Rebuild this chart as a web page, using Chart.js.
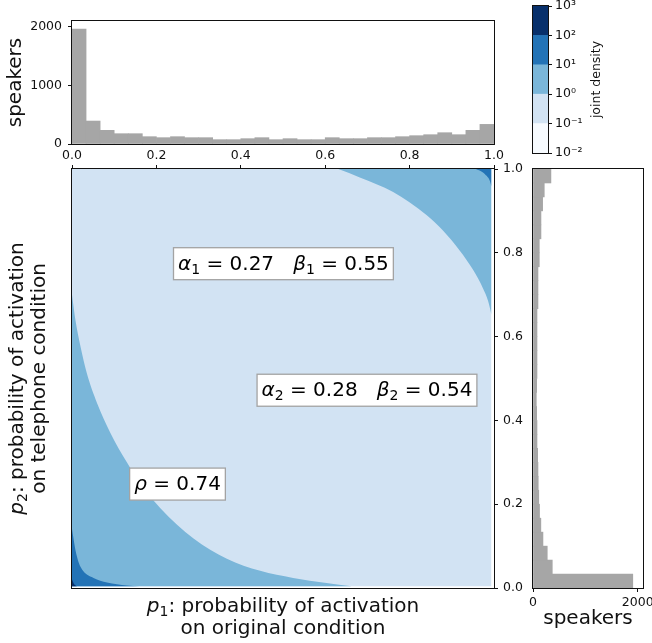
<!DOCTYPE html>
<html>
<head>
<meta charset="utf-8">
<script src="https://cdn.jsdelivr.net/npm/chart.js@4.4.1/dist/chart.umd.min.js"></script>
<style>
  html, body { margin: 0; padding: 0; background: #fff; }
  #wrap { position: relative; width: 652px; height: 643px; overflow: hidden; }
  canvas { position: absolute; left: 0; top: 0; }
</style>
</head>
<body>
<div id="wrap">
  <canvas id="main-chart" width="652" height="643"></canvas>
  <canvas id="top-hist" width="652" height="643"></canvas>
  <canvas id="right-hist" width="652" height="643"></canvas>
  <canvas id="colorbar" width="652" height="643"></canvas>
</div>
<script>
// 30 histogram bins on [0, 1]
const binCenters = [0.0167, 0.05, 0.0833, 0.1167, 0.15, 0.1833, 0.2167, 0.25, 0.2833, 0.3167,
  0.35, 0.3833, 0.4167, 0.45, 0.4833, 0.5167, 0.55, 0.5833, 0.6167, 0.65,
  0.6833, 0.7167, 0.75, 0.7833, 0.8167, 0.85, 0.8833, 0.9167, 0.95, 0.9833];

// speakers per bin, p1 (original condition)
const p1Counts = [1960, 392, 233, 176, 176, 125, 108, 125, 108, 108,
  74, 74, 91, 108, 74, 91, 74, 74, 108, 91,
  91, 108, 108, 125, 142, 159, 193, 159, 233, 335];

// speakers per bin, p2 (telephone condition)
const p2Counts = [1905, 368, 272, 190, 150, 125, 110, 100, 95, 89,
  76, 76, 70, 63, 70, 76, 76, 76, 76, 76,
  95, 95, 95, 120, 120, 152, 152, 184, 215, 342];

const probTicks = [0, 0.2, 0.4, 0.6, 0.8, 1.0];
const countTicksTop = [0, 1000, 2000];
const countTicksRight = [0, 2000];

// joint density contour levels + colours
const densityLevels = [0.01, 0.1, 1, 10, 100, 1000];
const densityTickLabels = ['10⁻²', '10⁻¹', '10⁰', '10¹', '10²', '10³'];
const densityColors = ['#f7fbff', '#d2e3f3', '#7ab6d9', '#2373b6', '#08306b'];

// contour boundaries (p1, p2)
const bandLight = [{x: 0, y: 1}, {x: 0.994, y: 1}];
const bandMidLower = [{x: 0, y: 0.70}, {x: 0.008, y: 0.64}, {x: 0.02, y: 0.577}, {x: 0.035, y: 0.513},
  {x: 0.059, y: 0.442}, {x: 0.091, y: 0.37}, {x: 0.13, y: 0.30}, {x: 0.17, y: 0.238},
  {x: 0.21, y: 0.19}, {x: 0.288, y: 0.118}, {x: 0.367, y: 0.07}, {x: 0.446, y: 0.041},
  {x: 0.524, y: 0.024}, {x: 0.603, y: 0.012}, {x: 0.663, y: 0.004}];
const bandMidUpper = [{x: 0.631, y: 1}, {x: 0.682, y: 0.98}, {x: 0.761, y: 0.945}, {x: 0.84, y: 0.89},
  {x: 0.879, y: 0.853}, {x: 0.919, y: 0.805}, {x: 0.95, y: 0.76}, {x: 0.974, y: 0.715},
  {x: 0.986, y: 0.685}, {x: 0.994, y: 0.652}];
const bandDarkLower = [{x: 0, y: 0.141}, {x: 0.004, y: 0.115}, {x: 0.008, y: 0.091}, {x: 0.016, y: 0.06},
  {x: 0.027, y: 0.04}, {x: 0.051, y: 0.024}, {x: 0.083, y: 0.013}, {x: 0.13, y: 0.006}, {x: 0.16, y: 0.004}];
const bandDarkUpper = [{x: 0.957, y: 1}, {x: 0.972, y: 0.993}, {x: 0.983, y: 0.983}, {x: 0.99, y: 0.972}, {x: 0.994, y: 0.958}];
const bandDarkestLower = [{x: 0, y: 0.02}, {x: 0.005, y: 0.009}, {x: 0.012, y: 0.004}];

// text boxes: [p1, p2] of the box centre
const notes = [
  {at: [0.501, 0.774], parts: [{t: 'α', i: 1}, {t: '1', s: 1}, {t: ' = 0.27   '}, {t: 'β', i: 1}, {t: '1', s: 1}, {t: ' = 0.55'}]},
  {at: [0.699, 0.472], parts: [{t: 'α', i: 1}, {t: '2', s: 1}, {t: ' = 0.28   '}, {t: 'β', i: 1}, {t: '2', s: 1}, {t: ' = 0.54'}]},
  {at: [0.25, 0.248], parts: [{t: 'ρ', i: 1}, {t: ' = 0.74'}]}
];

const fontFamily = '"DejaVu Sans", "Liberation Sans", sans-serif';
const tickFont = {family: fontFamily, size: 12.5};
const ink = '#111';
const histGray = '#a6a6a6';

function fixSize(w, h) {
  return function (scale) {
    if (w !== null) scale.width = w;
    if (h !== null) scale.height = h;
    scale.paddingLeft = 0; scale.paddingRight = 0;
    scale.paddingTop = 0; scale.paddingBottom = 0;
  };
}
function setTicks(values) {
  return function (scale) { scale.ticks = values.map(v => ({value: v})); };
}

function richWidth(ctx, parts, size) {
  let w = 0;
  parts.forEach(p => {
    ctx.font = (p.i ? 'italic ' : '') + (p.s ? size * 0.7 : size) + 'px ' + fontFamily;
    w += ctx.measureText(p.t).width;
  });
  return w;
}
function richText(ctx, parts, x, y, size, align) {
  const total = richWidth(ctx, parts, size);
  let cx = align === 'center' ? x - total / 2 : x;
  ctx.textAlign = 'left';
  ctx.textBaseline = 'alphabetic';
  parts.forEach(p => {
    ctx.font = (p.i ? 'italic ' : '') + (p.s ? size * 0.7 : size) + 'px ' + fontFamily;
    ctx.fillText(p.t, cx, y + (p.s ? size * 0.2 : 0));
    cx += ctx.measureText(p.t).width;
  });
}

const framePlugin = {
  id: 'frame',
  afterDraw(chart) {
    const {ctx, chartArea: a} = chart;
    ctx.save();
    ctx.strokeStyle = ink;
    ctx.lineWidth = 1;
    ctx.strokeRect(a.left - 0.5, a.top - 0.5, a.right - a.left + 1, a.bottom - a.top + 1);
    ctx.restore();
  }
};

const mainTextPlugin = {
  id: 'mainText',
  afterDraw(chart) {
    const {ctx, chartArea: a, scales} = chart;
    ctx.save();
    ctx.fillStyle = '#000';
    // boxes
    notes.forEach(n => {
      const cx = scales.x.getPixelForValue(n.at[0]);
      const cy = scales.y.getPixelForValue(n.at[1]);
      const w = richWidth(ctx, n.parts, 20) + 9;
      ctx.fillStyle = '#fff';
      ctx.fillRect(cx - w / 2, cy - 16, w, 32);
      ctx.strokeStyle = '#a3a3a3';
      ctx.lineWidth = 1.3;
      ctx.strokeRect(cx - w / 2, cy - 16, w, 32);
      ctx.fillStyle = '#000';
      richText(ctx, n.parts, cx, cy + 6, 20, 'center');
    });
    // x label
    const mx = (a.left + a.right) / 2;
    ctx.fillStyle = ink;
    richText(ctx, [{t: 'p', i: 1}, {t: '1', s: 1}, {t: ': probability of activation'}], mx, a.bottom + 23.5, 20, 'center');
    richText(ctx, [{t: 'on original condition'}], mx, a.bottom + 45.5, 20, 'center');
    // y label
    const my = (a.top + a.bottom) / 2;
    ctx.translate(23, my);
    ctx.rotate(-Math.PI / 2);
    richText(ctx, [{t: 'p', i: 1}, {t: '2', s: 1}, {t: ': probability of activation'}], 0, 0, 20, 'center');
    richText(ctx, [{t: 'on telephone condition'}], 0, 22, 20, 'center');
    ctx.restore();
  }
};

const cbLabelPlugin = {
  id: 'cbLabel',
  afterDraw(chart) {
    const {ctx, chartArea: a} = chart;
    ctx.save();
    ctx.fillStyle = ink;
    ctx.translate(600, (a.top + a.bottom) / 2);
    ctx.rotate(-Math.PI / 2);
    ctx.font = '12.5px ' + fontFamily;
    ctx.textAlign = 'center';
    ctx.textBaseline = 'alphabetic';
    ctx.fillText('joint density', 0, 0);
    ctx.restore();
  }
};

const common = {
  responsive: false,
  animation: false,
  devicePixelRatio: 1,
  plugins: {legend: {display: false}, tooltip: {enabled: false}}
};

// main joint density panel
function band(data, color, fill, order) {
  return {data: data, backgroundColor: color, borderColor: 'rgba(0,0,0,0)', borderWidth: 0,
    fill: fill, order: order, pointRadius: 0, cubicInterpolationMode: 'monotone'};
}
new Chart(document.getElementById('main-chart'), {
  type: 'line',
  data: {
    datasets: [
      band(bandLight, densityColors[1], {value: 0.004}, 6),
      band(bandMidLower, densityColors[2], {value: 0.004}, 5),
      band(bandMidUpper, densityColors[2], 'end', 5),
      band(bandDarkLower, densityColors[3], {value: 0.004}, 4),
      band(bandDarkUpper, densityColors[3], 'end', 4),
      band(bandDarkestLower, densityColors[4], {value: 0.004}, 3)
    ]
  },
  options: Object.assign({}, common, {
    layout: {autoPadding: false, padding: {left: 72, top: 165, right: 128, bottom: 55}},
    scales: {
      x: {type: 'linear', position: 'top', min: 0, max: 1, afterBuildTicks: setTicks(probTicks),
        grid: {drawOnChartArea: false, tickLength: 4, color: ink}, border: {display: false},
        ticks: {display: false}, afterFit: fixSize(null, 4)},
      y: {type: 'linear', position: 'right', min: 0, max: 1, afterBuildTicks: setTicks(probTicks),
        grid: {drawOnChartArea: false, tickLength: 4, color: ink}, border: {display: false},
        ticks: {callback: v => v.toFixed(1), font: tickFont, color: ink, padding: 5},
        afterFit: fixSize(30, null)}
    }
  }),
  plugins: [framePlugin, mainTextPlugin]
});

// top histogram (p1)
new Chart(document.getElementById('top-hist'), {
  type: 'bar',
  data: {
    datasets: [{
      data: binCenters.map((c, k) => ({x: c, y: p1Counts[k]})),
      backgroundColor: histGray, borderWidth: 0, barPercentage: 1, categoryPercentage: 1
    }]
  },
  options: Object.assign({}, common, {
    layout: {autoPadding: false, padding: {left: 0, top: 21, right: 158, bottom: 479}},
    scales: {
      x: {type: 'linear', min: 0, max: 1, offset: false, afterBuildTicks: setTicks(probTicks),
        grid: {display: false, drawTicks: false, offset: false}, border: {display: false},
        ticks: {callback: v => v.toFixed(1), font: tickFont, color: ink, padding: 4, maxRotation: 0, autoSkip: false},
        afterFit: fixSize(null, 20)},
      y: {min: 0, max: 2100, afterBuildTicks: setTicks(countTicksTop),
        grid: {drawOnChartArea: false, tickLength: 4, color: ink}, border: {display: false},
        ticks: {callback: v => String(v), font: tickFont, color: ink, padding: 6},
        title: {display: true, text: 'speakers', color: ink, font: {family: fontFamily, size: 20}, padding: {top: 4, bottom: 0}},
        afterFit: fixSize(72, null)}
    }
  }),
  plugins: [framePlugin]
});

// right histogram (p2)
new Chart(document.getElementById('right-hist'), {
  type: 'bar',
  data: {
    datasets: [{
      data: binCenters.map((c, k) => ({x: p2Counts[k], y: c})),
      backgroundColor: histGray, borderWidth: 0, barPercentage: 1, categoryPercentage: 1
    }]
  },
  options: Object.assign({}, common, {
    indexAxis: 'y',
    layout: {autoPadding: false, padding: {left: 533, top: 169, right: 9, bottom: 0}},
    scales: {
      x: {type: 'linear', min: 0, max: 2100, afterBuildTicks: setTicks(countTicksRight),
        grid: {drawOnChartArea: false, tickLength: 4, color: ink}, border: {display: false},
        ticks: {callback: v => String(v), font: tickFont, color: ink, padding: 3, maxRotation: 0, autoSkip: false},
        title: {display: true, text: 'speakers', color: ink, font: {family: fontFamily, size: 20}, padding: {top: 0, bottom: 12}},
        afterFit: fixSize(null, 55)},
      y: {type: 'linear', min: 0, max: 1, offset: false, display: false, grid: {offset: false}}
    }
  }),
  plugins: [framePlugin]
});

// colour bar
new Chart(document.getElementById('colorbar'), {
  type: 'bar',
  data: {
    labels: ['joint density'],
    datasets: densityColors.map((c, k) => ({
      data: [[densityLevels[k], densityLevels[k + 1]]],
      backgroundColor: c, borderWidth: 0, grouped: false, barPercentage: 1, categoryPercentage: 1
    }))
  },
  options: Object.assign({}, common, {
    layout: {autoPadding: false, padding: {left: 533, top: 6, right: 54, bottom: 490}},
    scales: {
      x: {display: false},
      y: {type: 'logarithmic', position: 'right', min: 0.01, max: 1000,
        afterBuildTicks: setTicks(densityLevels),
        grid: {drawOnChartArea: false, tickLength: 4, color: ink}, border: {display: false},
        ticks: {callback: (v, k) => densityTickLabels[k], font: tickFont, color: ink, padding: 3, autoSkip: false},
        afterFit: fixSize(50, null)}
    }
  }),
  plugins: [framePlugin, cbLabelPlugin]
});
</script>
</body>
</html>
